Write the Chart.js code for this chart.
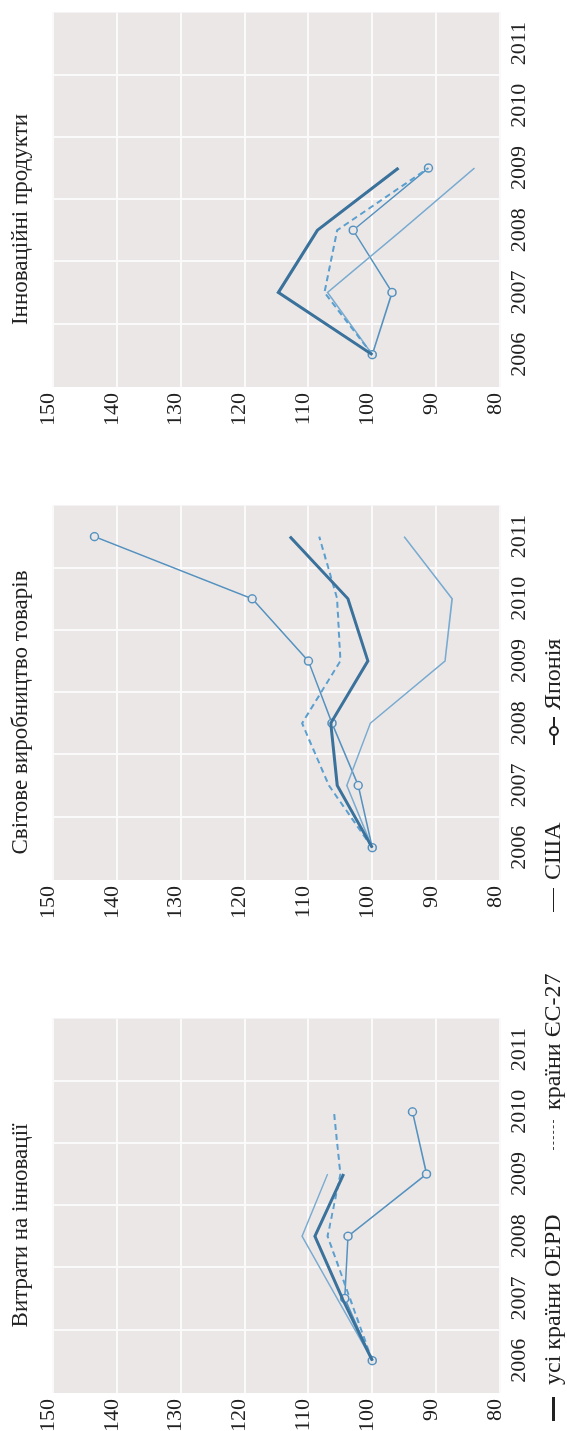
<!DOCTYPE html>
<html>
<head>
<meta charset="utf-8">
<script src="https://cdn.jsdelivr.net/npm/chart.js@4.4.1/dist/chart.umd.min.js"></script>
<style>
  html, body { margin: 0; padding: 0; background: #fff; }
  body { width: 567px; height: 1431px; overflow: hidden; position: relative; }
  #figure {
    position: absolute; left: 0; top: 0;
    width: 1431px; height: 567px;
    transform-origin: 0 0;
    transform: translateY(1431px) rotate(-90deg);
    font-family: 'Liberation Serif', 'DejaVu Serif', serif;
    color: #222;
  }
  #figure canvas { position: absolute; top: 0; }
  .lg { position: absolute; top: 539px; font-size: 24px; line-height: 26px; white-space: nowrap; }
  .ln { position: absolute; background: #222; }
</style>
</head>
<body>
<div id="figure">
  <canvas id="chartA" width="420" height="540" style="left:-2px"></canvas>
  <canvas id="chartB" width="420" height="540" style="left:511px"></canvas>
  <canvas id="chartC" width="420" height="540" style="left:1004px"></canvas>

  <div class="ln" style="left:10px; top:552px; width:24px; height:3px;"></div>
  <span class="lg" style="left:46px">усі країни ОЕРD</span>
  <div class="ln" style="left:281px; top:553px; width:30px; height:0; background:none; border-top:1px dashed #444;"></div>
  <span class="lg" style="left:321px">країни ЄС-27</span>
  <div class="ln" style="left:519px; top:553px; width:24px; height:1px;"></div>
  <span class="lg" style="left:551px">США</span>
  <div class="ln" style="left:686px; top:553px; width:28px; height:1.5px;"></div>
  <div class="ln" style="left:695px; top:549px; width:6px; height:6px; border-radius:50%; background:#fff; border:2px solid #222;"></div>
  <span class="lg" style="left:721px">Японія</span>
</div>

<script>
// years and tick values
const years = [2006, 2007, 2008, 2009, 2010, 2011];
const gridYears = [2006.5, 2007.5, 2008.5, 2009.5, 2010.5];
const valueTicks = [80, 90, 100, 110, 120, 130, 140, 150];

// Витрати на інновації
const oecdA  = [100, 104.7, 109.0, 104.5, null, null];
const euA    = [100, 103.5, 107.0, 105.0, 106.0, null];
const usaA   = [100, 105.5, 111.0, 107.0, null, null];
const japanA = [100, 104.3, 103.8, 91.5, 93.7, null];

// Світове виробництво товарів
const oecdB  = [100, 105.5, 106.5, 100.7, 103.8, 112.9];
const euB    = [100, 106.8, 111.0, 105.0, 105.5, 108.3];
const usaB   = [100, 104.0, 100.3, 88.6, 87.5, 95.0];
const japanB = [100, 102.2, 106.3, 110.0, 118.8, 143.5];

// Інноваційні продукти
const oecdC  = [100, 114.7, 108.6, 95.9, null, null];
const euC    = [100, 107.5, 105.5, 91.2, null, null];
const usaC   = [100, 107.0, 95.4, 84.0, null, null];
const japanC = [100, 96.9, 103.0, 91.2, null, null];

const titles = ['Витрати на інновації', 'Світове виробництво товарів', 'Інноваційні продукти'];

const plotBg = '#ebe7e7';
const gridColor = '#fafafa';
const textColor = '#222';

Chart.defaults.font.family = "'Liberation Serif', 'DejaVu Serif', serif";
Chart.defaults.color = textColor;

// grey panel behind the grid
const plotBackground = {
    id: 'plotBackground',
    beforeDraw(chart) {
        const a = chart.chartArea;
        const ctx = chart.ctx;
        ctx.save();
        ctx.fillStyle = plotBg;
        ctx.fillRect(a.left, a.top, a.right - a.left, a.bottom - a.top);
        ctx.restore();
    }
};

function toPoints(values) {
    return years.map((y, i) => ({ x: y, y: values[i] }));
}

function makeChart(id, title, oecd, eu, usa, japan) {
    const xTicks = years.concat(gridYears).sort((a, b) => a - b);
    return new Chart(document.getElementById(id), {
        type: 'line',
        data: {
            datasets: [
                {
                    label: 'усі країни ОЕРD',
                    data: toPoints(oecd),
                    borderColor: '#3a729c',
                    borderWidth: 3,
                    pointRadius: 0
                },
                {
                    label: 'країни ЄС-27',
                    data: toPoints(eu),
                    borderColor: '#5b9fcf',
                    borderWidth: 2,
                    borderDash: [6, 4],
                    pointRadius: 0
                },
                {
                    label: 'США',
                    data: toPoints(usa),
                    borderColor: '#79abd0',
                    borderWidth: 1.5,
                    pointRadius: 0
                },
                {
                    label: 'Японія',
                    data: toPoints(japan),
                    borderColor: '#5592bf',
                    borderWidth: 1.5,
                    pointRadius: 4,
                    pointStyle: 'circle',
                    pointBackgroundColor: plotBg,
                    pointBorderColor: '#5592bf',
                    pointBorderWidth: 1.5
                }
            ]
        },
        options: {
            responsive: false,
            animation: false,
            layout: { padding: { right: 5 } },
            plugins: {
                legend: { display: false },
                tooltip: { enabled: false },
                title: {
                    display: true,
                    text: title,
                    color: textColor,
                    font: { size: 23, weight: 'normal' },
                    padding: { top: 7, bottom: 18.4 }
                }
            },
            scales: {
                x: {
                    type: 'linear',
                    min: 2005.48,
                    max: 2011.5,
                    afterBuildTicks: function(scale) {
                        scale.ticks = xTicks.map(v => ({ value: v }));
                    },
                    afterFit: function(scale) { scale.height = 40; },
                    ticks: {
                        autoSkip: false,
                        maxRotation: 0,
                        minRotation: 0,
                        padding: 6,
                        color: textColor,
                        font: { size: 22 },
                        callback: function(value) {
                            return Number.isInteger(value) ? String(value) : '';
                        }
                    },
                    grid: {
                        color: function(ctx) {
                            return ctx.tick && !Number.isInteger(ctx.tick.value) ? gridColor : 'rgba(0,0,0,0)';
                        },
                        lineWidth: 2,
                        drawTicks: false
                    },
                    border: { display: false }
                },
                y: {
                    min: 80,
                    max: 150,
                    afterBuildTicks: function(scale) {
                        scale.ticks = valueTicks.map(v => ({ value: v }));
                    },
                    afterFit: function(scale) { scale.width = 40; },
                    ticks: {
                        padding: 6,
                        labelOffset: -5,
                        color: textColor,
                        font: { size: 22 }
                    },
                    grid: {
                        color: gridColor,
                        lineWidth: 2,
                        drawTicks: false
                    },
                    border: { display: false }
                }
            }
        },
        plugins: [plotBackground]
    });
}

makeChart('chartA', titles[0], oecdA, euA, usaA, japanA);
makeChart('chartB', titles[1], oecdB, euB, usaB, japanB);
makeChart('chartC', titles[2], oecdC, euC, usaC, japanC);
</script>
</body>
</html>
